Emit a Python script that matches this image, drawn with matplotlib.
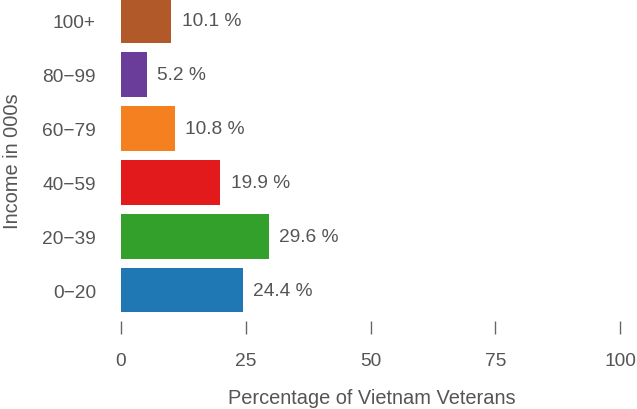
import matplotlib
matplotlib.use("Agg")
import matplotlib.pyplot as plt

categories = ["0\u221220", "20\u221239", "40\u221259", "60\u221279", "80\u221299", "100+"]
percentages = [24.4, 29.6, 19.9, 10.8, 5.2, 10.1]
bar_colors = ["#1f78b4", "#33a02c", "#e31a1c", "#f58020", "#6a3d9a", "#b15928"]
x_ticks = [0, 25, 50, 75, 100]

plt.rcParams["font.family"] = ["Liberation Sans", "DejaVu Sans"]
text_color = "#555555"

W, H = 637, 410
fig = plt.figure(figsize=(W / 100, H / 100), dpi=100)
ax_bottom_px = 322
ax = fig.add_axes([121 / W, (H - ax_bottom_px) / H, 499 / W, ax_bottom_px / H])

y = list(range(len(categories)))
ax.barh(y, percentages, height=0.83, color=bar_colors)
for yi, v in zip(y, percentages):
    ax.annotate(f"{v} %", (v, yi), xytext=(7.5, 0), textcoords="offset points",
                va="center", ha="left", fontsize=13.8, color=text_color)

ax.set_xlim(0, 100)
ax.set_ylim(-(ax_bottom_px - 291) / 54, 5 + 21.5 / 54)
ax.set_xticks(x_ticks)
ax.set_xticklabels([str(t) for t in x_ticks])
ax.set_yticks(y)
ax.set_yticklabels(categories)

for s in ax.spines.values():
    s.set_visible(False)
ax.tick_params(axis="x", direction="out", length=9, width=1, color="#666666",
               pad=13, labelsize=13.8, labelcolor=text_color)
ax.tick_params(axis="y", length=0, pad=18, labelsize=13.8, labelcolor=text_color)

ax.set_xlabel("Percentage of Vietnam Veterans", fontsize=14.4, color=text_color)
ax.set_ylabel("Income in 000s", fontsize=14.4, color=text_color)
ax.xaxis.set_label_coords((371.5 - 121) / 499, (322 - 389) / 322)
ax.yaxis.set_label_coords((22 - 121) / 499, 0.5)

fig.savefig("out.png", dpi=100)
